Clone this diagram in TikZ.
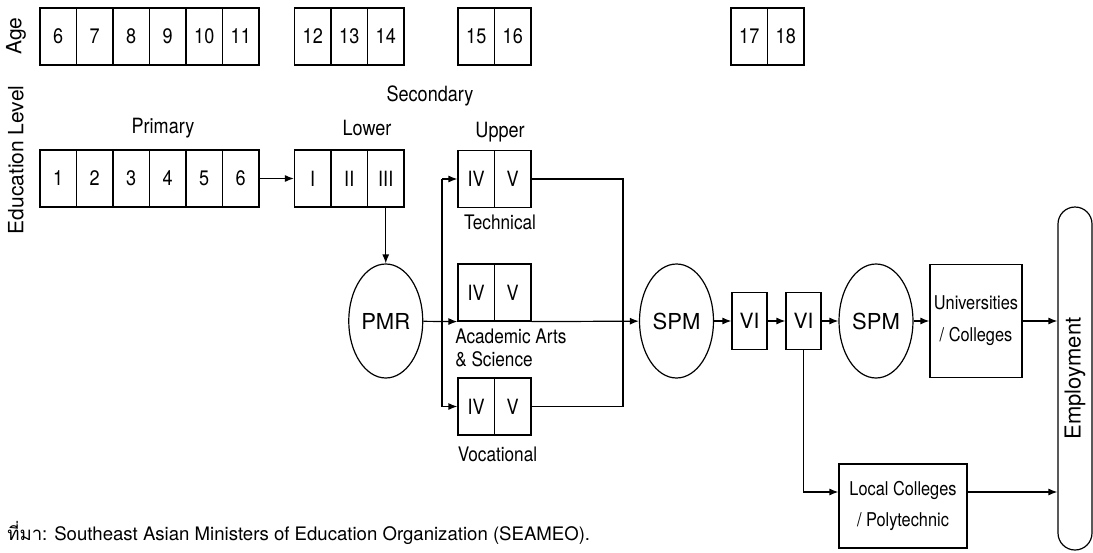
\documentclass[tikz,border=0pt]{standalone}
\usepackage{fontspec}
\setmainfont{TeX Gyre Heros}
\newfontfamily\narrow{TeX Gyre Heros}[FakeStretch=0.86]
\newfontfamily\thaifont[Script=Thai]{Loma}
\usetikzlibrary{arrows.meta,shapes.geometric}

\begin{document}
\begin{tikzpicture}[x=0.5pt,y=-0.5pt, line width=0.6pt,
		>={Latex[length=4.5pt,width=3.5pt]},
		cell/.style={draw, minimum width=18.25pt, minimum height=28.5pt, inner sep=0pt,
			font=\narrow\fontsize{10.5}{12}\selectfont},
		oval/.style={draw, ellipse, minimum width=37pt, minimum height=57pt, inner sep=0pt,
			font=\fontsize{11}{13}\selectfont},
		lbl/.style={font=\narrow\fontsize{10.5}{12}\selectfont},
		sublbl/.style={font=\narrow\fontsize{10}{11.5}\selectfont},
		inst/.style={draw, inner sep=0pt, align=center,
			font=\narrow\fontsize{9.5}{16}\selectfont}]
		% \draw [help lines, step=50] (0,0) grid (1093,552);
		\useasboundingbox (0,0) rectangle (1093,552);

		\node[rotate=90, font=\fontsize{10.5}{12}\selectfont] (agelbl) at (16,36) {Age};
		\node[rotate=90, font=\fontsize{10.5}{12}\selectfont] (edulbl) at (16,160) {Education Level};

		\foreach \a [count=\i] in {6,...,11}
			\node[cell] (age\a) at ({40+36.5*(\i-0.5)},36.5) {\a};
		\foreach \a [count=\i] in {12,13,14}
			\node[cell] (age\a) at ({294.5+36.5*(\i-0.5)},36.5) {\a};
		\foreach \a [count=\i] in {15,16}
			\node[cell] (age\a) at ({458+36.5*(\i-0.5)},36.5) {\a};
		\foreach \a [count=\i] in {17,18}
			\node[cell] (age\a) at ({731+36.5*(\i-0.5)},36.5) {\a};

		\node[lbl] (primary) at (163,128) {Primary};
		\node[lbl] (secondary) at (430,96) {Secondary};
		\node[lbl] (lower) at (367,128) {Lower};
		\node[lbl] (upper) at (500,132) {Upper};

		\foreach \i in {1,...,6}
			\node[cell] (p\i) at ({40+36.5*(\i-0.5)},178.5) {\i};
		\foreach \r [count=\i] in {I,II,III}
			\node[cell] (l\i) at ({294.5+36.5*(\i-0.5)},178.5) {\r};

		\node[cell] (tIV) at (476.25,179) {IV};
		\node[cell] (tV) at (512.75,179) {V};
		\node[cell] (aIV) at (476.25,292.5) {IV};
		\node[cell] (aV) at (512.75,292.5) {V};
		\node[cell] (vIV) at (476.25,406.5) {IV};
		\node[cell] (vV) at (512.75,406.5) {V};

		\node[sublbl] (technical) at (500,222) {Technical};
		\node[sublbl, anchor=west, align=left, font=\narrow\fontsize{10}{11.5}\selectfont] (academic) at (448,347.5) {Academic Arts\\\& Science};
		\node[sublbl] (vocational) at (497.5,454) {Vocational};

		\node[oval] (pmr) at (385.75,321) {PMR};
		\node[oval] (spm1) at (676.5,321) {SPM};
		\node[cell, minimum width=17.5pt, font=\fontsize{10.5}{12}\selectfont] (vi1) at (749.5,321) {VI};
		\node[cell, minimum width=17.5pt, font=\fontsize{10.5}{12}\selectfont] (vi2) at (803.5,321) {VI};
		\node[oval] (spm2) at (876,321) {SPM};
		\node[inst, minimum width=46pt, minimum height=56.5pt] (univ) at (976,321) {Universities\\/ Colleges};
		\node[inst, minimum width=64pt, minimum height=42pt, font=\narrow\fontsize{9.5}{15.5}\selectfont] (local) at (903,506) {Local Colleges\\/ Polytechnic};
		\node[draw, rotate=90, rounded corners=8.5pt, minimum width=171.5pt, minimum height=17pt, inner sep=0pt,
			font=\fontsize{11}{13}\selectfont] (emp) at (1075,378.5) {Employment};

		\coordinate (fork) at (442,321);
		\coordinate (merge) at (623,321);

		\draw[->] (p6) -- (l1);
		\draw[->] (l3) -- (pmr);
		\draw[->] (pmr) -- (aIV.south west);
		\draw[->] (fork |- tIV) -- (tIV);
		\draw (fork |- tIV) -- (fork |- vIV);
		\draw[->] (fork |- vIV) -- (vIV);
		\draw (tV) -- (merge |- tV) -- (merge |- vV) -- (vV);
		\draw[->] (aV.south east) -- (spm1);
		\draw[->] (spm1) -- (vi1);
		\draw[->] (vi1) -- (vi2);
		\draw[->] (vi2) -- (spm2);
		\draw[->] (spm2) -- (univ);
		\draw[->] (univ) -- (univ -| emp.north);
		\draw[->] (vi2.south) |- ([yshift=7pt]local.west);
		\draw[->] ([yshift=7pt]local.east) -- ([yshift=7pt]local.east -| emp.north);

		\node[anchor=west, font=\fontsize{9.3}{11}\selectfont] (source) at (0,533)
			{{\thaifont ที่มา}: Southeast Asian Ministers of Education Organization (SEAMEO).};
	\end{tikzpicture}
\end{document}
